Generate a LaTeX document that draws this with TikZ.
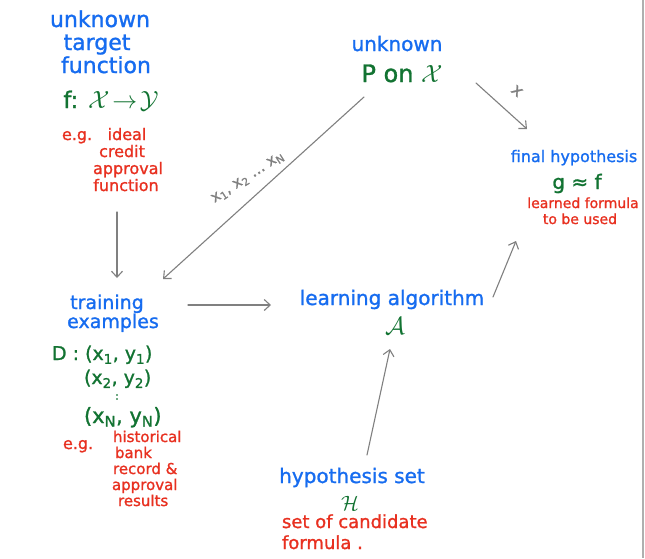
\documentclass[tikz,border=0pt]{standalone}
\usepackage{fontspec}
\newfontfamily\hw[FakeBold=1.2]{DejaVu Sans}
\usetikzlibrary{arrows.meta}
\definecolor{hwblue}{RGB}{22,108,240}
\definecolor{hwgreen}{RGB}{18,115,50}
\definecolor{hwred}{RGB}{232,48,32}
\definecolor{hwgray}{RGB}{128,128,128}
\definecolor{edgegray}{RGB}{175,175,175}
\tikzset{
  txt/.style={inner sep=0pt, outer sep=0pt},
  hb/.style={txt, text=hwblue, font=\hw\fontsize{20}{23}\selectfont},
  hbl/.style={txt, text=hwblue, font=\hw\fontsize{22}{24}\selectfont},
  hbs/.style={txt, text=hwblue, font=\hw\fontsize{16}{18}\selectfont},
  hg/.style={txt, text=hwgreen, font=\hw\fontsize{19}{21}\selectfont},
  hgl/.style={txt, text=hwgreen, font=\hw\fontsize{24}{26}\selectfont},
  hr/.style={txt, text=hwred, font=\hw\fontsize{16}{18}\selectfont},
  hrm/.style={txt, text=hwred, font=\hw\fontsize{15}{16}\selectfont},
  hrs/.style={txt, text=hwred, font=\hw\fontsize{14}{16}\selectfont},
  hrl/.style={txt, text=hwred, font=\hw\fontsize{18}{20}\selectfont},
  lbl/.style={txt, text=hwgray, font=\hw\fontsize{15}{17}\selectfont},
  arr/.style={draw=hwgray, line width=1.1pt, line cap=round,
    -{Straight Barb[length=6pt,width=11pt,line width=1.1pt]}},
}
\begin{document}
\begin{tikzpicture}[x=1pt,y=-1pt]
\useasboundingbox (0,0) rectangle (645,558);
\fill[white] (0,0) rectangle (645,558);
\draw[edgegray, line width=1.5pt] (643,0) -- (643,558);

% unknown target function
\node[hbl, anchor=base] (tf1) at (100,27) {unknown};
\node[hbl, anchor=base] (tf2) at (97,50) {target};
\node[hbl, anchor=base] (tf3) at (106,73) {function};
\node[hg, anchor=base, font=\hw\fontsize{23}{25}\selectfont] (fxy) at (111,108) {f: $\mathcal{X}\!\rightarrow\!\mathcal{Y}$};
\node[hr, anchor=base west] (eg1) at (62,140) {e.g.};
\node[hr, anchor=base] (tr1) at (127,140) {ideal};
\node[hr, anchor=base] (tr2) at (122,157) {credit};
\node[hr, anchor=base] (tr3) at (128,174) {approval};
\node[hr, anchor=base] (tr4) at (126,191) {function};

% training examples
\node[hb, anchor=base, font=\hw\fontsize{19}{21}\selectfont] (te1) at (107,309) {training};
\node[hb, anchor=base, font=\hw\fontsize{19}{21}\selectfont] (te2) at (113,328) {examples};
\node[hg, anchor=base west] (d1) at (52,360) {D : (x\textsubscript{1}, y\textsubscript{1})};
\node[hg, anchor=base west] (d2) at (84,384) {(x\textsubscript{2}, y\textsubscript{2})};
\node[hg, font=\hw\fontsize{10}{10}\selectfont] (d3) at (117,397) {:};
\node[hg, anchor=base west, font=\hw\fontsize{21}{23}\selectfont] (d4) at (84,423) {(x\textsubscript{N}, y\textsubscript{N})};
\node[hr, anchor=base west] (eg2) at (63,449) {e.g.};
\node[hrm, anchor=base west] (br1) at (113,442) {historical};
\node[hrm, anchor=base west] (br2) at (115,458) {bank};
\node[hrm, anchor=base west] (br3) at (113,474) {record \&};
\node[hrm, anchor=base west] (br4) at (112,490) {approval};
\node[hrm, anchor=base west] (br5) at (118,506) {results};

% unknown P on X
\node[hb, anchor=base] (px1) at (397,51) {unknown};
\node[hgl, anchor=base] (px2) at (402,82) {P on $\mathcal{X}$};

% final hypothesis
\node[hbs, anchor=base] (fh1) at (574,162) {final hypothesis};
\node[hg, anchor=base, font=\hw\fontsize{20}{22}\selectfont] (fh2) at (577,189) {g ≈ f};
\node[hrs, anchor=base] (fh3) at (583,208) {learned formula};
\node[hrs, anchor=base] (fh4) at (580,224) {to be used};

% learning algorithm
\node[hb, anchor=base] (la1) at (392,305) {learning algorithm};
\node[hg, anchor=base, font=\fontsize{24}{26}\selectfont] (la2) at (395,334) {$\mathcal{A}$};

% hypothesis set
\node[hb, anchor=base] (hs1) at (352,483) {hypothesis set};
\node[hg, anchor=base, font=\fontsize{22}{24}\selectfont] (hs2) at (350,510) {$\mathcal{H}$};
\node[hrl, anchor=base west] (hs3) at (282,528) {set of candidate};
\node[hrl, anchor=base west] (hs4) at (282,549) {formula .};

% connector end points
\coordinate (c1a) at (117,212);
\coordinate (c1b) at (117,278);
\coordinate (c2a) at (364,97);
\coordinate (c2b) at (163,279);
\coordinate (c3a) at (188,305);
\coordinate (c3b) at (271,305);
\coordinate (c4a) at (367,455);
\coordinate (c4b) at (390,349);
\coordinate (c5a) at (493,297);
\coordinate (c5b) at (516,241);
\coordinate (c6a) at (476,83);
\coordinate (c6b) at (527,129);

\draw[arr] (c1a) -- (c1b);
\draw[arr] (c2a) -- (c2b);
\draw[arr] (c3a) -- (c3b);
\draw[arr] (c4a) -- (c4b);
\draw[arr] (c5a) -- (c5b);
\draw[arr] (c6a) -- (c6b);

\node[lbl, rotate=33] (xl) at (248,178) {x\textsubscript{1}, x\textsubscript{2} … x\textsubscript{N}};
\node[lbl, rotate=-40, font=\hw\fontsize{17}{17}\selectfont] (xm) at (517,91) {x};
\end{tikzpicture}
\end{document}
